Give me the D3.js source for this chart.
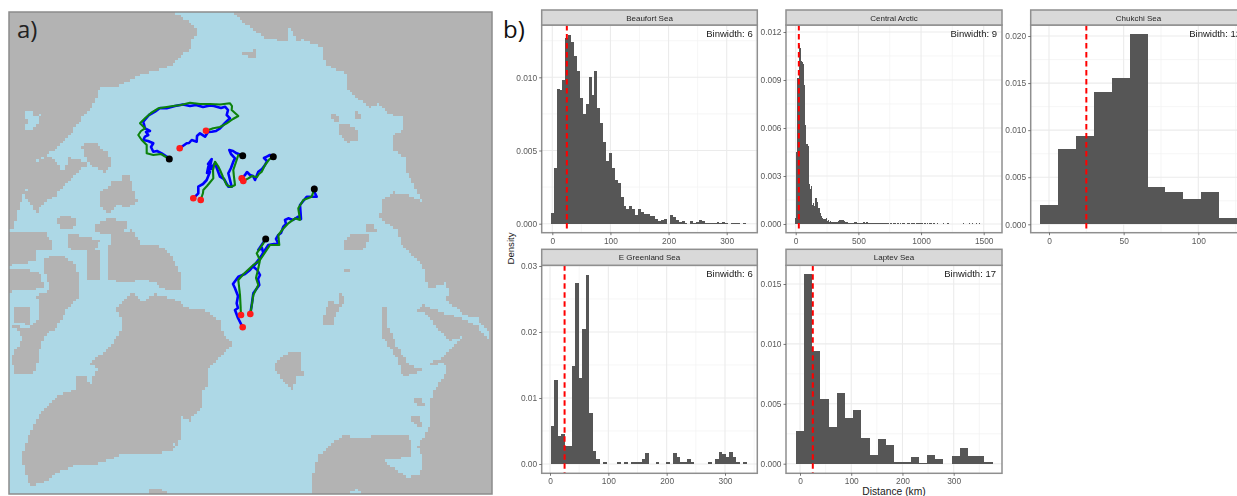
<!DOCTYPE html>
<html>
<head>
<meta charset="utf-8">
<script src="https://cdn.jsdelivr.net/npm/d3@7"></script>
<style>
  html, body { margin: 0; padding: 0; background: #fff; overflow: hidden; }
  svg { display: block; font-family: "Liberation Sans", Arial, sans-serif; }
</style>
</head>
<body>
<svg id="chart" width="1237" height="496"></svg>
<script>
// map outlines, in map units (same size as the picture's pixels)
const landShapes = [
  [[9,12],[173,12],[187,20],[199,33],[192,40],[191,50],[182,55],[167,68],[152,71],[133,78],[117,87],[100,88],[93,105],[83,117],[72,132],[62,143],[50,153],[37,160],[33,172],[27,188],[23,197],[20,205],[14,228],[9,228]],
  [[33,173],[35,163],[50,155],[58,163],[62,173],[67,163],[67,157],[80,160],[90,165],[80,170],[72,177],[63,187],[55,197],[43,203],[37,213],[25,197]],
  [[82,145],[95,143],[107,152],[113,162],[105,172],[92,167],[85,157]],
  [[99,192],[108,187],[113,180],[120,182],[122,175],[130,175],[133,190],[137,202],[127,208],[118,205],[108,213],[100,205]],
  [[57,218],[68,215],[77,220],[73,230],[60,230]],
  [[95,225],[110,218],[127,222],[125,232],[110,235],[95,232]],
  [[110,232],[133,230],[142,245],[133,250],[110,250]],
  [[67,233],[85,237],[100,240],[95,250],[70,250]],
  [[9,232],[45,232],[54,245],[50,250],[9,250]],
  [[9,246],[37,246],[37,262],[15,263],[9,266]],
  [[9,270],[25,268],[42,275],[43,287],[30,291],[9,292]],
  [[15,306],[30,306],[30,325],[15,322]],
  [[45,258],[60,254],[76,265],[80,285],[78,298],[68,308],[58,325],[44,338],[38,356],[36,372],[14,373],[12,355],[22,340],[20,330],[9,326],[9,325],[30,328],[38,318],[37,295],[50,290],[44,270]],
  [[87,250],[100,250],[100,280],[88,280]],
  [[107,246],[160,246],[170,254],[180,272],[182,290],[165,290],[153,282],[140,280],[130,283],[107,280]],
  [[132,293],[143,301],[155,294],[173,299],[190,308],[207,311],[220,321],[223,334],[233,343],[220,356],[208,369],[208,383],[202,393],[202,406],[190,421],[180,416],[182,433],[177,446],[167,439],[177,449],[157,454],[123,454],[100,463],[73,466],[57,473],[43,483],[30,486],[22,459],[28,436],[43,409],[60,394],[90,386],[97,369],[90,364],[110,346],[122,329],[122,319],[115,309]],
  [[75,375],[85,375],[90,385],[80,389],[75,388]],
  [[150,488],[160,488],[168,494],[148,494]],
  [[232,12],[243,23],[250,27],[263,37],[278,40],[288,42],[303,40],[323,48],[325,65],[347,73],[348,90],[370,108],[378,103],[387,113],[403,118],[405,128],[392,137],[392,150],[405,157],[407,173],[412,183],[423,202],[407,195],[393,192],[383,200],[383,210],[378,217],[397,230],[402,246],[423,266],[425,279],[430,289],[423,303],[417,311],[427,314],[437,329],[450,341],[463,336],[450,349],[438,361],[447,366],[447,371],[432,393],[430,424],[425,436],[417,446],[423,459],[420,476],[407,477],[383,461],[410,456],[413,446],[407,434],[383,434],[357,439],[345,434],[330,445],[318,456],[314,470],[312,480],[312,494],[492,494],[492,12]],
  [[243,53],[250,52],[257,48],[256,56],[250,58],[245,55]],
  [[330,111],[338,117],[339,122],[333,120]],
  [[355,110],[361,116],[358,120],[355,116]],
  [[338,125],[345,123],[358,130],[359,140],[348,142],[340,134]],
  [[365,224],[374,222],[376,232],[366,232]],
  [[346,236],[370,234],[368,242],[362,250],[345,250]],
  [[344,270],[349,270],[349,273],[344,273]],
  [[331,300],[337,306],[340,292],[345,297],[343,303],[335,316],[333,325],[323,325],[325,310]],
  [[275,363],[290,351],[303,351],[300,365],[305,373],[305,378],[297,375],[293,392],[285,382],[275,370]],
  [[382,306],[387,306],[388,326],[397,346],[410,366],[423,368],[415,374],[403,376],[397,359],[387,343],[381,336]],
  [[415,398],[422,396],[424,405],[416,406]],
  [[410,417],[420,416],[422,427],[415,425]],
  [[430,362],[437,360],[437,366],[431,366]]
];
const seaShapes = [
  [[25,112],[32,110],[35,118],[40,115],[37,125],[30,130],[24,130],[27,122]],
  [[287,30],[291,29],[296,40],[288,43]],
  [[430,289],[445,283],[450,292],[445,300],[467,316],[477,318],[490,334],[487,339],[477,326],[463,319],[447,314],[430,308],[423,303]],
  [[352,491],[358,489],[362,494],[350,494]]
];

// drift tracks, in map units
const blueTracks = [
  [[179.7,148.3],[186.7,143.3],[189,143],[191.7,140],[196.7,141.7],[197,136],[200,133.3],[205,136.7],[208,132],[211.7,131.7],[216,131],[220,128.3],[225,123],[230,118.3],[226.7,115],[228,110],[225,106.7],[221,108],[214,106],[210,105.5],[203,107],[196,105],[190,106],[183,104.5],[175,106],[166.7,108.3],[160,108],[155,111.7],[149,115],[143.3,121.7],[145,128.3],[150,131],[146,132],[148.3,135],[145,136.7],[143.3,140],[148,141],[153.3,143.3],[151,147],[153.3,151.7],[157,151],[161.7,153.3],[169.3,158.3]],
  [[193.3,198.3],[198.3,193.3],[198.3,186.7],[203,184],[206.7,180],[210,171.7],[207,173],[208.3,166.7],[211.7,169],[208,164],[211.7,159],[209.3,170],[215,163.3],[220,176.7],[224,179],[228.3,186.7],[231.7,186.7],[228.3,173.3],[231,168],[233.3,161.7],[235,158.3],[231,154],[229.3,150],[233,151],[236.7,153.3],[242.7,155.7]],
  [[241.7,178.3],[245,175],[247,172],[250,175],[253,176],[255,180],[257,175],[258.3,171.7],[262,169],[265,165],[267,161],[264,158],[266.7,156.7],[270,155],[273.3,156.7]],
  [[242.7,327.3],[238,318],[235,310],[238,308],[236.7,303.3],[238,296],[235,288.3],[233,284],[238.3,276.7],[245,274],[250,270],[254,265],[258.3,261.7],[265,250],[268.3,245],[278.3,243.3],[276,239],[278.3,235],[281,233],[283.3,226.7],[286,224],[285,220],[288.3,218.3],[293,220],[298.3,216.7],[301,219],[300,205],[306.7,196.7],[316.7,196.7],[314,191],[314.3,187]],
  [[250.3,314],[252,303],[253.3,293.3],[259.3,285],[258,279],[260,275],[257.3,270],[253.3,266.7],[263.3,253.3],[262,248],[258.3,250],[265.7,239]]
];
const greenTracks = [
  [[206,130.7],[213.3,128.3],[220,127],[226.7,123.3],[233,119],[238.3,116],[231.7,110],[232,106],[230,103.3],[220,104.5],[210,104],[200,104],[190,102.7],[181,105],[173.3,106],[158.3,108.3],[151,113],[145,118.3],[140,123.3],[145,128.3],[141,131],[138.3,135],[141.7,140],[146.7,145],[146.7,153.3],[153.3,155],[161,154],[169.3,159]],
  [[200.7,200],[203,193],[203.3,190],[207,186],[213.3,178.3],[213,170],[215,161.7],[218,166],[220,170],[223,177],[226.7,185],[231,187],[235,185],[234,177],[233.3,170],[236,162],[238.3,155],[242.7,155.7]],
  [[243.3,181],[248.3,178.3],[252,176],[256.7,177.3],[259,174],[261.7,171.7],[265,165],[269.3,159.3],[273.3,156.7]],
  [[241,315],[240.5,305],[240,295],[238.3,280],[243.3,274.3],[253.3,265],[260,260],[256.7,253.3],[263.3,243.3],[265.7,239]],
  [[250.3,314],[252,304],[253.3,295],[258.3,285],[256,278],[258.3,268.3],[260,260],[270,245],[279.3,245],[278.3,235],[283,229],[288.3,223.3],[295,218.3],[300,220],[298.3,208.3],[303.3,200],[311.7,196.7],[314.3,189]]
];
const startPoints = [[179.7,148.3],[206,130.7],[193.3,198.3],[200.7,200],[241.7,178.3],[243.3,181],[242.7,327.3],[241,315],[250.3,314]];
const endPoints = [[169.3,159],[242.7,155.7],[273.3,156.7],[265.7,239],[314.3,189]];

// histogram densities, one value per bin
const beaufortDensity = [.0007,.0038,.0092,.0091,.0098,.0127,.0129,.0124,.01146,.0104,.0086,.0075,.0082,.01,.0088,.01046,.0079,.0069,.0056,.0043,.0048,.0038,.003,.0028,.0018,.0012,.001,.0012,.001,.0006,.001,.0008,.00066,.00066,.0005,.0005,.00034,.00018,.00023,.0003,0,.00057,.00043,.00025,.00011,.00018,.00007,0,.00016,.00008,.00014,.00025,.00016,.00008,.00007,.00008,.00004,.00012,.00005,.00009,.00007,0,.00004,.00006,.00005,0,.00004,0];
const arcticDensity = [.0004,.0045,.0091,.0112,.0110,.0102,.0101,.0100,.0087,.0062,
  .0050,.0049,.0025,.0022,.0024,.0012,.0013,.0011,.0016,.0014,
  .0010,.0010,.0007,.0005,.0004,.0003,.0003,.0004,.0002,.00025,
  .00015,.0002,.00015,.00012,.00012,.0001,.00015,.00015,.0002,.00025,
  .00028,.00025,.00022,.0002,.00015,.00012,.0001,.00008,.00008,.00006,
  .00006,.00006,.00012,.0001,.00012,.00008,.00006,.00006,.00008,.00006,
  .0001,.00012,.00008,.00012,.0001,.00006,.00006,.00006,.00006,.00006,
  .00006,.00007,.00006,.00006,.00006,.00006,.00006,.00006,.00006,.00006,
  .00007,.00006,.00006,0,.00006,.00006,0,.00006,.00006,0,
  .00006,.00006,0,.00006,0,.00006,.00006,0,0,.00006,
  .00006,.00006,0,.00006,.00006,.00006,0,.00006,.00006,.00006,
  .00006,.00006,.00006,0,.00006,.00006,0,.00006,0,.00006,
  .00006,0,.00006,.00006,0,0,.00006,0,0,0,
  0,.00006,0,0,0,.00006,0,0,0,0,
  0,0,0,0,0,0,0,0,0,.00006,
  0,0,0,0,.00006,0,0,.00006,0,0,.00006,0,0,.00006];
const chukchiDensity = [.002,.008,.0094,.0141,.0155,.0202,.004,.0034,.0027,.0034,.0007];
const greenlandDensity = [.00576,.0127,.0042,.0046,.0027,.0027,.0149,.0275,.0131,.0204,.0287,.0077,.0019,.0008,0,.0003,0,0,0,.0003,0,.0003,0,.0003,.0003,.0003,.0007,.0016,0,0,.0003,0,0,.0003,0,.0016,.0011,.0003,.0003,.0008,.0003,0,0,0,0,.0003,0,.0008,.0018,.0015,.0011,.0018,.0011,.0003,0,.0003];
const laptevDensity = [.00276,.0158,.0094,.0054,.0031,.0059,.00384,.00446,.00214,.00075,.00203,.00159,.00017,.00017,.00053,.00008,.00075,.00039,0,.00064,.00128,.00064,.00064,.00017];

const beaufortXTicks = [0,100,200,300];
const arcticXTicks = [0,500,1000,1500];
const chukchiXTicks = [0,50,100];
const greenlandXTicks = [0,100,200,300];
const laptevXTicks = [0,100,200,300];
const beaufortYTicks = ['0.000','0.005','0.010'];
const arcticYTicks = ['0.000','0.003','0.006','0.009','0.012'];
const chukchiYTicks = ['0.000','0.005','0.010','0.015','0.020'];
const greenlandYTicks = ['0.00','0.01','0.02','0.03'];
const laptevYTicks = ['0.000','0.005','0.010','0.015'];

const medianDistance = 25;
const landColor = '#b3b3b3', seaColor = '#add8e6', barColor = '#565656';

// layout of each facet: values first, then where it sits on the page
const panels = [
  {name:'Beaufort Sea', label:'Binwidth: 6', bins:beaufortDensity, firstBin:0, binSize:5, xTicks:beaufortXTicks, yTicks:beaufortYTicks,
   left:541.7, right:757.3, top:10, stripBottom:25, bottom:232.7, x0:552.3, x1:726.7, y0:223.7, y1:77.3, labelRight:752.7},
  {name:'Central Arctic', label:'Binwidth: 9', bins:arcticDensity, firstBin:0, binSize:9, xTicks:arcticXTicks, yTicks:arcticYTicks,
   left:786, right:1002, top:10, stripBottom:25, bottom:232.7, x0:795.7, x1:983.7, y0:224, y1:32, labelRight:997},
  {name:'Chukchi Sea', label:'Binwidth: 12', bins:chukchiDensity, firstBin:0, binSize:12, xTicks:chukchiXTicks, yTicks:chukchiYTicks,
   left:1030.7, right:1246.3, top:10, stripBottom:25, bottom:232.7, x0:1049, x1:1198.3, y0:224.3, y1:36, labelRight:1241},
  {name:'E Greenland Sea', label:'Binwidth: 6', bins:greenlandDensity, firstBin:4.7, binSize:6, xTicks:greenlandXTicks, yTicks:greenlandYTicks,
   left:541.7, right:757.3, top:249.3, stripBottom:265.3, bottom:473.3, x0:550, x1:725, y0:464, y1:266, labelRight:752.7},
  {name:'Laptev Sea', label:'Binwidth: 17', bins:laptevDensity, firstBin:0, binSize:16, xTicks:laptevXTicks, yTicks:laptevYTicks,
   left:786, right:1002, top:249.3, stripBottom:265.3, bottom:473.3, x0:800, x1:953.7, y0:463.7, y1:284, labelRight:996}
];

const svg = d3.select('#chart');
const defs = svg.append('defs');
function addBlur(id, amount) {
  defs.append('filter').attr('id', id)
    .attr('filterUnits', 'userSpaceOnUse').attr('x', 0).attr('y', 0).attr('width', 1237).attr('height', 496)
    .append('feGaussianBlur').attr('stdDeviation', amount);
}
addBlur('soft', 0.5);
addBlur('softer', 0.35);

//map panel
const mapX = d3.scaleLinear().domain([9, 492]).range([9, 492]);
const mapY = d3.scaleLinear().domain([12, 494]).range([12, 494]);
const gridCells = 180;
const cellW = 483 / gridCells, cellH = 482 / gridCells;
// cell edges are snapped to whole pixels so that neighbouring rows leave no seams
const cellX = c => Math.round(mapX(9) + c * cellW);
const cellY = r => Math.round(mapY(12) + r * cellH);

svg.append('rect').attr('x', mapX(9)).attr('y', mapY(12))
  .attr('width', mapX(492) - mapX(9)).attr('height', mapY(494) - mapY(12)).attr('fill', seaColor);

// land is a coarse mask in the original, so test every cell and draw runs of land
function isLand(px, py) {
  const p = [mapX.invert(px), mapY.invert(py)];
  if (seaShapes.some(s => d3.polygonContains(s, p))) return false;
  return landShapes.some(s => d3.polygonContains(s, p));
}
const runs = [];
for (let r = 0; r < gridCells; r++) {
  let start = -1;
  for (let c = 0; c <= gridCells; c++) {
    const on = c < gridCells && isLand(mapX(9) + (c + 0.5) * cellW, mapY(12) + (r + 0.5) * cellH);
    if (on && start < 0) start = c;
    if (!on && start >= 0) { runs.push({r, c: start, n: c - start}); start = -1; }
  }
}
svg.append('g').attr('filter', 'url(#soft)').attr('shape-rendering', 'crispEdges')
  .selectAll('rect').data(runs).join('rect')
  .attr('x', d => cellX(d.c))
  .attr('y', d => cellY(d.r))
  .attr('width', d => cellX(d.c + d.n) - cellX(d.c))
  .attr('height', d => cellY(d.r + 1) - cellY(d.r))
  .attr('fill', landColor);

const trackLine = d3.line().x(d => mapX(d[0])).y(d => mapY(d[1]));
const tracks = svg.append('g').attr('fill', 'none').attr('stroke-linejoin', 'round').attr('stroke-linecap', 'round')
  .attr('filter', 'url(#softer)');
tracks.selectAll('.blue').data(blueTracks).join('path').attr('class', 'blue')
  .attr('d', trackLine).attr('stroke', '#0000ff').attr('stroke-width', 2.6);
tracks.selectAll('.green').data(greenTracks).join('path').attr('class', 'green')
  .attr('d', trackLine).attr('stroke', '#0a820a').attr('stroke-width', 2.1);
svg.append('g').attr('filter', 'url(#softer)').selectAll('circle').data(startPoints).join('circle')
  .attr('cx', d => mapX(d[0])).attr('cy', d => mapY(d[1])).attr('r', 3.3).attr('fill', '#ff1a1a');
svg.append('g').attr('filter', 'url(#softer)').selectAll('circle').data(endPoints).join('circle')
  .attr('cx', d => mapX(d[0])).attr('cy', d => mapY(d[1])).attr('r', 3.5).attr('fill', '#000');

svg.append('rect').attr('x', mapX(9)).attr('y', mapY(12))
  .attr('width', mapX(492) - mapX(9)).attr('height', mapY(494) - mapY(12))
  .attr('fill', 'none').attr('stroke', '#8c8c8c').attr('stroke-width', 1.5);

// panel letters
svg.append('text').attr('x', 17).attr('y', 38).attr('font-family', '"Open Sans", sans-serif').attr('font-size', 24).attr('fill', '#222').text('a)');
svg.append('text').attr('x', 503).attr('y', 38).attr('font-family', '"Open Sans", sans-serif').attr('font-size', 24).attr('fill', '#111').text('b)');

//histogram facets
function addPanel(p) {
  const x = d3.scaleLinear().domain([0, p.xTicks[p.xTicks.length - 1]]).range([p.x0, p.x1]);
  const yTickValues = p.yTicks.map(Number);
  const y = d3.scaleLinear().domain([0, yTickValues[yTickValues.length - 1]]).range([p.y0, p.y1]);
  const g = svg.append('g').attr('filter', 'url(#softer)');

  const clipId = 'clip' + p.name.replace(/ /g, '');
  defs.append('clipPath').attr('id', clipId).append('rect')
    .attr('x', p.left).attr('y', p.stripBottom).attr('width', p.right - p.left).attr('height', p.bottom - p.stripBottom);
  const inner = g.append('g').attr('clip-path', 'url(#' + clipId + ')');

  // ggplot minor grid sits halfway between the major breaks
  const xStep = p.xTicks[1] - p.xTicks[0], yStep = yTickValues[1] - yTickValues[0];
  const xMinor = d3.range(-1, p.xTicks.length + 2).map(i => (i + 0.5) * xStep);
  const yMinor = d3.range(-1, yTickValues.length + 2).map(i => (i + 0.5) * yStep);
  inner.selectAll('.xminor').data(xMinor).join('line').attr('class', 'xminor')
    .attr('x1', d => x(d)).attr('x2', d => x(d)).attr('y1', p.stripBottom).attr('y2', p.bottom)
    .attr('stroke', '#f2f2f2').attr('stroke-width', 0.7);
  inner.selectAll('.yminor').data(yMinor).join('line').attr('class', 'yminor')
    .attr('y1', d => y(d)).attr('y2', d => y(d)).attr('x1', p.left).attr('x2', p.right)
    .attr('stroke', '#f2f2f2').attr('stroke-width', 0.7);
  inner.selectAll('.xmajor').data(p.xTicks).join('line').attr('class', 'xmajor')
    .attr('x1', d => x(d)).attr('x2', d => x(d)).attr('y1', p.stripBottom).attr('y2', p.bottom)
    .attr('stroke', '#ebebeb').attr('stroke-width', 1.1);
  inner.selectAll('.ymajor').data(yTickValues).join('line').attr('class', 'ymajor')
    .attr('y1', d => y(d)).attr('y2', d => y(d)).attr('x1', p.left).attr('x2', p.right)
    .attr('stroke', '#ebebeb').attr('stroke-width', 1.1);

  inner.append('g').attr('shape-rendering', 'crispEdges').selectAll('.bar').data(p.bins).join('rect').attr('class', 'bar')
    .attr('x', (d, i) => Math.round(x(p.firstBin + (i - 0.5) * p.binSize)))
    .attr('width', (d, i) => Math.max(1, Math.round(x(p.firstBin + (i + 0.5) * p.binSize)) - Math.round(x(p.firstBin + (i - 0.5) * p.binSize))))
    .attr('y', d => y(d))
    .attr('height', d => y(0) - y(d))
    .attr('fill', barColor);

  g.append('line').attr('x1', x(medianDistance)).attr('x2', x(medianDistance))
    .attr('y1', p.stripBottom).attr('y2', p.bottom)
    .attr('stroke', '#ff0000').attr('stroke-width', 2).attr('stroke-dasharray', '5.5,3.5');

  g.append('rect').attr('x', p.left).attr('y', p.stripBottom)
    .attr('width', p.right - p.left).attr('height', p.bottom - p.stripBottom)
    .attr('fill', 'none').attr('stroke', '#8f8f8f').attr('stroke-width', 1.5);
  g.append('rect').attr('x', p.left).attr('y', p.top)
    .attr('width', p.right - p.left).attr('height', p.stripBottom - p.top)
    .attr('fill', '#d9d9d9').attr('stroke', '#8f8f8f').attr('stroke-width', 1.5);
  g.append('text').attr('x', (p.left + p.right) / 2).attr('y', (p.top + p.stripBottom) / 2 + 3)
    .attr('text-anchor', 'middle').attr('font-size', 8).attr('fill', '#262626').text(p.name);
  g.append('text').attr('x', p.labelRight).attr('y', p.stripBottom + 11.5)
    .attr('text-anchor', 'end').attr('font-size', 9.5).attr('fill', '#1a1a1a').text(p.label);

  const xAxis = g.append('g').attr('transform', 'translate(0,' + p.bottom + ')')
    .call(d3.axisBottom(x).tickValues(p.xTicks).tickFormat(d3.format('d')).tickSize(2.5).tickPadding(2.5));
  const yAxis = g.append('g').attr('transform', 'translate(' + p.left + ',0)')
    .call(d3.axisLeft(y).tickValues(yTickValues).tickFormat((d, i) => p.yTicks[i]).tickSize(2.5).tickPadding(2));
  [xAxis, yAxis].forEach(a => {
    a.attr('font-family', null);
    a.select('.domain').remove();
    a.selectAll('line').attr('stroke', '#555').attr('stroke-width', 0.8);
    a.selectAll('text').attr('font-size', 8.4).attr('fill', '#5a5a5a');
  });
}
panels.forEach(addPanel);

svg.append('text').attr('transform', 'translate(514,248.5) rotate(-90)')
  .attr('text-anchor', 'middle').attr('font-size', 9.6).attr('fill', '#1a1a1a').text('Density');
svg.append('text').attr('x', 894).attr('y', 495)
  .attr('text-anchor', 'middle').attr('font-size', 10.3).attr('fill', '#1a1a1a').text('Distance (km)');
</script>
</body>
</html>
